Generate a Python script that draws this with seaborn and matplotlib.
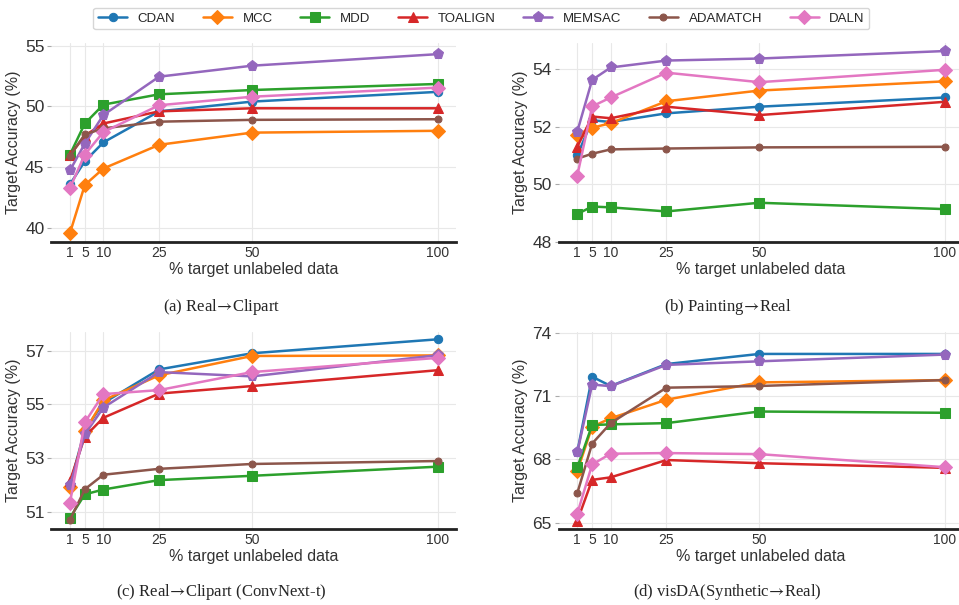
import pandas as pd
import matplotlib.pyplot as plt
import seaborn as sns

# x values shared by every panel
pct = [1, 5, 10, 25, 50, 100]
methods = ['CDAN', 'MCC', 'MDD', 'TOALIGN', 'MEMSAC', 'ADAMATCH', 'DALN']

# (a) Real -> Clipart
a_cdan = [43.6, 45.5, 47.05, 49.6, 50.4, 51.2]
a_mcc = [39.6, 43.55, 44.9, 46.85, 47.85, 48.0]
a_mdd = [46.05, 48.6, 50.15, 51.0, 51.35, 51.85]
a_toalign = [46.0, 47.6, 48.6, 49.6, 49.85, 49.85]
a_memsac = [44.75, 46.95, 49.3, 52.45, 53.35, 54.3]
a_adamatch = [45.95, 47.7, 48.2, 48.75, 48.9, 48.95]
a_daln = [43.3, 46.05, 47.9, 50.1, 50.8, 51.55]

# (b) Painting -> Real
b_cdan = [51.0, 52.22, 52.16, 52.46, 52.69, 53.01]
b_mcc = [51.72, 51.96, 52.12, 52.88, 53.25, 53.57]
b_mdd = [48.97, 49.23, 49.2, 49.06, 49.36, 49.14]
b_toalign = [51.3, 52.35, 52.29, 52.69, 52.4, 52.86]
b_memsac = [51.83, 53.62, 54.05, 54.29, 54.36, 54.62]
b_adamatch = [50.89, 51.06, 51.21, 51.24, 51.28, 51.3]
b_daln = [50.3, 52.7, 53.01, 53.87, 53.54, 53.97]

# (c) Real -> Clipart (ConvNext-t)
c_cdan = [52.0, 54.05, 55.05, 56.3, 56.9, 57.42]
c_mcc = [51.92, 54.0, 55.15, 56.08, 56.8, 56.82]
c_mdd = [50.78, 51.65, 51.83, 52.18, 52.34, 52.68]
c_toalign = [52.15, 53.8, 54.5, 55.4, 55.68, 56.27]
c_memsac = [51.98, 53.88, 54.88, 56.2, 56.04, 56.83]
c_adamatch = [50.7, 51.84, 52.38, 52.6, 52.78, 52.89]
c_daln = [51.34, 54.33, 55.38, 55.53, 56.2, 56.73]

# (d) visDA (Synthetic -> Real)
d_cdan = [68.35, 71.92, 71.48, 72.52, 73.0, 73.0]
d_mcc = [67.45, 69.55, 69.95, 70.83, 71.65, 71.76]
d_mdd = [67.62, 69.63, 69.66, 69.72, 70.27, 70.21]
d_toalign = [65.08, 67.03, 67.15, 67.97, 67.82, 67.6]
d_memsac = [68.33, 71.55, 71.47, 72.48, 72.65, 72.97]
d_adamatch = [66.4, 68.75, 69.72, 71.4, 71.48, 71.76]
d_daln = [65.43, 67.76, 68.27, 68.3, 68.25, 67.63]

arrow = r'$\!\rightarrow\!$'
panels = [
    ('(a) Real' + arrow + 'Clipart', [a_cdan, a_mcc, a_mdd, a_toalign, a_memsac, a_adamatch, a_daln]),
    ('(b) Painting' + arrow + 'Real', [b_cdan, b_mcc, b_mdd, b_toalign, b_memsac, b_adamatch, b_daln]),
    ('(c) Real' + arrow + 'Clipart (ConvNext-t)', [c_cdan, c_mcc, c_mdd, c_toalign, c_memsac, c_adamatch, c_daln]),
    ('(d) visDA(Synthetic' + arrow + 'Real)', [d_cdan, d_mcc, d_mdd, d_toalign, d_memsac, d_adamatch, d_daln]),
]
yticks = [[40, 45, 50, 55], [48, 50, 52, 54], [51, 53, 55, 57], [65, 68, 71, 74]]
ylims = [(38.86, 55.22), (48.0, 54.9), (50.36, 57.7), (64.7, 74.05)]

colors = sns.color_palette('tab10', 7)
markers = ['o', 'D', 's', '^', 'p', 'o', 'D']
msizes = [6, 7, 6.5, 7.5, 8, 5, 7]

sns.set_style('whitegrid')
plt.rcParams['font.family'] = ['Liberation Sans', 'DejaVu Sans']
plt.rcParams['mathtext.fontset'] = 'stix'

fig = plt.figure(figsize=(9.59, 6.05), dpi=100)
positions = [
    [0.0536, 0.600, 0.4222, 0.329],
    [0.5826, 0.600, 0.4222, 0.329],
    [0.0536, 0.1256, 0.4222, 0.326],
    [0.5826, 0.1256, 0.4222, 0.326],
]
cap_y = [0.492, 0.022]

for i, (title, series) in enumerate(panels):
    ax = fig.add_axes(positions[i])
    for m, vals, c, mk, ms in zip(methods, series, colors, markers, msizes):
        df = pd.DataFrame({'pct': pct, 'acc': vals})
        sns.lineplot(data=df, x='pct', y='acc', ax=ax, color=c, marker=mk,
                     markersize=ms, markeredgecolor=c, linewidth=1.8, label=m, legend=False)
    ax.set_xlim(-4, 105)
    ax.set_ylim(*ylims[i])
    ax.set_xticks(pct)
    ax.set_yticks(yticks[i])
    ax.grid(True, color='#e8e8e8', linewidth=0.8)
    for s in ['left', 'right', 'top']:
        ax.spines[s].set_visible(False)
    ax.spines['bottom'].set_color('#222222')
    ax.spines['bottom'].set_linewidth(2.0)
    ax.tick_params(axis='x', length=0, labelsize=10, labelcolor='#333333', pad=3)
    ax.tick_params(axis='y', length=3, color='#aaaaaa', labelsize=12.5, labelcolor='#333333', pad=2, left=True)
    ax.set_xlabel('% target unlabeled data', fontsize=11.5, color='#333333', labelpad=1)
    ax.set_ylabel('Target Accuracy (%)', fontsize=11.5, color='#333333', labelpad=3)
    fig.text(0.231 if i % 2 == 0 else 0.759, cap_y[i // 2], title, ha='center', va='center',
             fontsize=12, family=['Liberation Serif', 'DejaVu Serif'])
    if i == 0:
        handles = [ln for ln in ax.get_lines()]

fig.legend(handles, methods, loc='upper center', bbox_to_anchor=(0.502, 0.998), ncol=7,
           fontsize=9.5, frameon=True, fancybox=True, edgecolor='#cccccc',
           handlelength=2.2, columnspacing=2.1, borderpad=0.35, handletextpad=0.8)

plt.savefig('out.png', dpi=100)
